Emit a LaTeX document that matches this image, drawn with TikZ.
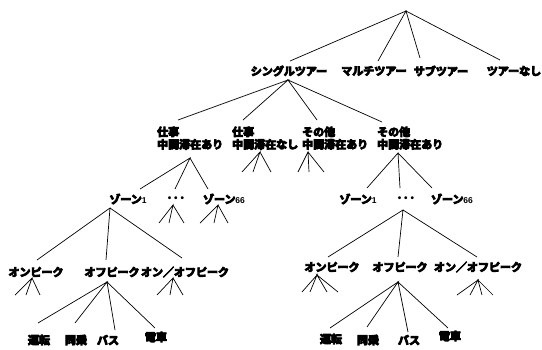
\documentclass[tikz,border=0pt]{standalone}
\usepackage{fontspec}
\newfontfamily\jp{Noto Sans CJK JP Bold}[FakeBold=8]
\newfontfamily\lat{Liberation Sans}
\newcommand{\dg}[1]{{\fontsize{8.5}{8.5}\lat\bfseries #1}}
\newcommand{\dts}{{\fontsize{10}{10}\lat\bfseries • • •}}
\tikzset{
  lab/.style={inner sep=0pt, font={\fontsize{11}{12.5}\jp}},
  lab2/.style={lab, align=left, anchor=north west},
  edge/.style={line width=0.7pt, black}
}
\begin{document}
\begin{tikzpicture}[x=1pt,y=-1pt]
\useasboundingbox (0,0) rectangle (542,349);
% ---- labels ----
\node[lab] (t1) at (289,71) {シングルツアー};
\node[lab] (t2) at (374,71) {マルチツアー};
\node[lab] (t3) at (441,71) {サブツアー};
\node[lab] (t4) at (514,71) {ツアーなし};
\node[lab2] (w1) at (157,126.5) {仕事\\中間滞在あり};
\node[lab2] (w2) at (232,126.5) {仕事\\中間滞在なし};
\node[lab2] (w3) at (302,126.5) {その他\\中間滞在あり};
\node[lab2] (w4) at (377,126.5) {その他\\中間滞在あり};
\node[lab] (zl1) at (128,199) {ゾーン\dg{1}};
\node[lab] (zld) at (176,199) {\dts};
\node[lab] (zl6) at (224,199) {ゾーン\dg{66}};
\node[lab] (zr1) at (358,199) {ゾーン\dg{1}};
\node[lab] (zrd) at (406,199) {\dts};
\node[lab] (zr6) at (452,199) {ゾーン\dg{66}};
\node[lab] (pl1) at (36,272) {オンピーク};
\node[lab] (pl2) at (112,272) {オフピーク};
\node[lab] (pl3) at (185,272) {オン／オフピーク};
\node[lab] (pr1) at (332,267) {オンピーク};
\node[lab] (pr2) at (400,267) {オフピーク};
\node[lab] (pr3) at (478,267) {オン／オフピーク};
\node[lab] (ml1) at (39,340) {運転};
\node[lab] (ml2) at (76,340) {同乗};
\node[lab] (ml3) at (108,340) {バス};
\node[lab] (ml4) at (156,337) {電車};
\node[lab] (mr1) at (331,339) {運転};
\node[lab] (mr2) at (368,340) {同乗};
\node[lab] (mr3) at (409,340) {バス};
\node[lab] (mr4) at (450,336) {電車};
% ---- connector points ----
\foreach \n/\x/\y in {
  root/406/11, e1/290/61, e2/378/61, e3/420/58, e4/500/60,
  s/288/80, f1/178/120, f2/243/120, f3/317/120, f4/382/122,
  a1/190/158, a1a/140/189, a1b/175/189, a1c/208/189,
  a2/260/152, a2a/242/172, a2b/253/172, a2c/271/172,
  a3/308/152, a3a/298/172, a3b/309/172, a3c/324/172,
  a4/398/153, a4a/367/188, a4b/400/188, a4c/432/188,
  b1/110/208, b1a/37/260, b1b/106/260, b1c/182/258,
  b2/173/205, b2a/159/223, b2b/169/223, b2c/184/223,
  b3/218/205, b3a/200/223, b3b/214/223, b3c/228/223,
  c2/403/210, c2a/328/257, c2b/398/257, c2c/477/257,
  d1/32/278, d1a/15/295, d1b/26/295, d1c/40/295,
  d3/173/278, d3a/157/295, d3b/170/295, d3c/183/295,
  d2/107/282, d2a/38/323, d2b/75/323, d2c/115/330, d2d/155/328,
  g1/317/275, g1a/302/292, g1b/310/292, g1c/327/292, g1d/338/292,
  g3/478/280, g3a/457/295, g3b/470/295, g3c/482/295, g3d/493/295,
  g2/398/282, g2a/330/328, g2b/367/327, g2c/408/332, g2d/448/328}
  \coordinate (\n) at (\x,\y);
% ---- connectors ----
\draw[edge] (e1) -- (root) -- (e2) (e3) -- (root) -- (e4);
\draw[edge] (f1) -- (s) -- (f2) (f3) -- (s) -- (f4);
\foreach \p in {a1,a2,a3,a4,b1,b2,b3,c2,d1,d3}
  \draw[edge] (\p a) -- (\p) -- (\p b) (\p) -- (\p c);
\foreach \p in {d2,g1,g2,g3}
  \draw[edge] (\p a) -- (\p) -- (\p b) (\p c) -- (\p) -- (\p d);
\end{tikzpicture}
\end{document}
